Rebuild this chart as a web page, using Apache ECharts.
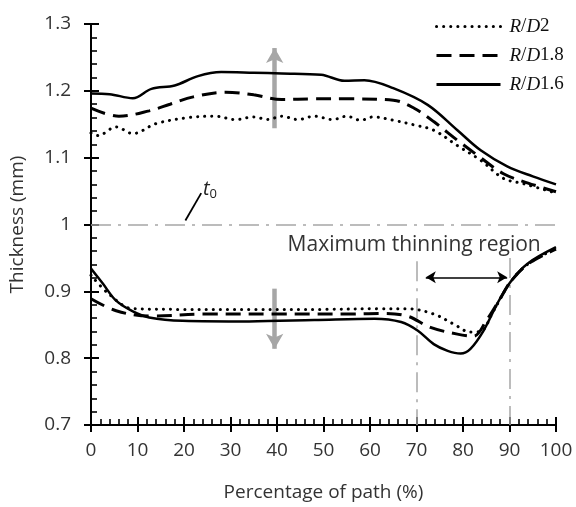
<!DOCTYPE html>
<html>
<head>
<meta charset="utf-8">
<script src="https://cdn.jsdelivr.net/npm/echarts@6/dist/echarts.min.js"></script>
<style>html,body{margin:0;padding:0;background:#fff}#c{width:576px;height:507px}</style>
</head>
<body>
<div id="c"></div>
<script>
// ---- data ----
const seriesNames = ['R/D2', 'R/D1.8', 'R/D1.6'];
const xTicks = [0, 10, 20, 30, 40, 50, 60, 70, 80, 90, 100];
const yTicks = [0.7, 0.8, 0.9, 1.0, 1.1, 1.2, 1.3];

// R/D1.6 (solid)
const solidUpX = [0, 4, 9, 13, 18, 23, 28, 35, 41, 49.5, 54.5, 58.8, 65, 72.4, 78.8, 83.8, 89.5, 95, 100];
const solidUpY = [1.196, 1.195, 1.189, 1.203, 1.208, 1.222, 1.228, 1.227, 1.226, 1.224, 1.215, 1.216, 1.204, 1.179, 1.141, 1.111, 1.087, 1.072, 1.060];
const solidLoX = [0, 2.5, 5.4, 9, 12.5, 19.7, 34, 48, 61, 66.7, 70.3, 73.7, 76.7, 79.5, 81.6, 84.4, 87.4, 90.2, 93.8, 100];
const solidLoY = [0.934, 0.912, 0.886, 0.870, 0.861, 0.856, 0.855, 0.857, 0.859, 0.854, 0.841, 0.821, 0.811, 0.807, 0.814, 0.841, 0.882, 0.914, 0.941, 0.966];

// R/D1.8 (dashed)
const dashUpX = [0, 6, 12.5, 17, 22, 29, 35, 41, 48, 55, 65, 69.5, 73.7, 78.8, 83.8, 88.7, 94, 100];
const dashUpY = [1.174, 1.162, 1.170, 1.180, 1.191, 1.198, 1.194, 1.187, 1.188, 1.188, 1.186, 1.174, 1.154, 1.126, 1.100, 1.076, 1.062, 1.049];
const dashLoX = [0, 5.4, 12.5, 25, 40, 55, 62, 68, 73, 78.8, 82.3, 85, 88, 90.2, 94, 100];
const dashLoY = [0.889, 0.871, 0.863, 0.866, 0.866, 0.866, 0.867, 0.863, 0.846, 0.836, 0.833, 0.856, 0.889, 0.914, 0.941, 0.963];

// R/D2 (dotted)
const dotUpX = [0, 1.5, 5.4, 9, 14, 21, 26.8, 31, 35, 38, 41, 44.5, 48, 52, 55, 58, 60.7, 65, 69.5, 73.7, 78.8, 83.8, 88.7, 93, 100];
const dotUpY = [1.137, 1.133, 1.146, 1.136, 1.151, 1.160, 1.162, 1.157, 1.161, 1.157, 1.162, 1.157, 1.162, 1.157, 1.162, 1.156, 1.161, 1.156, 1.149, 1.141, 1.118, 1.096, 1.069, 1.061, 1.047];
const dotLoX = [0, 4, 9, 20, 35, 50, 62, 68, 73.7, 78, 81.6, 83.8, 86.5, 90.2, 94, 100];
const dotLoY = [0.924, 0.895, 0.874, 0.873, 0.873, 0.873, 0.874, 0.874, 0.866, 0.851, 0.839, 0.840, 0.870, 0.914, 0.941, 0.964];

// annotations
const t0Value = 1.0;
const regionBounds = [70, 90];
const arrowX = 39.5;
const upArrow = [1.144, 1.264];
const downArrow = [0.904, 0.814];
const regionArrowX = [72, 89.5];
const regionArrowY = 0.921;
const regionLabel = 'Maximum thinning region';
const regionLabelPos = [69.5, 0.969];
const t0Leader = [[20.3, 1.006], [23.7, 1.047]];
const t0LabelPos = [25.6, 1.052];

// ---- build ----
const zip = (xs, ys) => xs.map((x, i) => [x, ys[i]]);
const SANS = '"Open Sans", "Noto Sans", sans-serif';
const GRAY = '#a6a6a6';
const dashDot = [20, 7, 3, 7];

const styles = {
  'R/D2': { type: [0.1, 7], width: 3, cap: 'round' },
  'R/D1.8': { type: [15, 8], width: 3, cap: 'butt' },
  'R/D1.6': { type: 'solid', width: 2.5, cap: 'butt' }
};

function lineSeries(name, data) {
  const s = styles[name];
  return {
    name, type: 'line', data, smooth: 0.35, showSymbol: false, symbol: 'none',
    silent: true, z: 5,
    lineStyle: { color: '#000', width: s.width, type: s.type, cap: s.cap },
    itemStyle: { color: '#000' }
  };
}

const chart = echarts.init(document.getElementById('c'), null, { renderer: 'canvas' });

const tickStyle = { color: '#000', width: 2 };
const minorStyle = { color: '#000', width: 1.6 };

const option = {
  animation: false,
  backgroundColor: '#fff',
  grid: { left: 88, right: 20, top: 24, bottom: 82, containLabel: false },
  legend: {
    data: seriesNames,
    orient: 'vertical',
    left: 430, top: 12,
    itemWidth: 64, itemHeight: 14, itemGap: 10,
    selectedMode: false,
    itemStyle: { opacity: 0 },
    lineStyle: { width: 3 },
    formatter: n => '{i|R}{n|/}{i|D}{n|' + n.split('D')[1] + '}',
    textStyle: {
      padding: [0, 0, 0, 4],
      rich: {
        i: { fontFamily: '"Liberation Serif", "DejaVu Serif", serif', fontStyle: 'italic', fontSize: 19, color: '#111' },
        n: { fontFamily: '"Liberation Serif", "DejaVu Serif", serif', fontSize: 19, color: '#111' }
      }
    }
  },
  xAxis: [{
    type: 'value', min: 0, max: 100, interval: 10, position: 'bottom',
    name: 'Percentage of path (%)', nameLocation: 'middle', nameGap: 58,
    nameTextStyle: { fontFamily: SANS, fontSize: 19, color: '#333' },
    axisLine: { show: true, onZero: false, lineStyle: { color: '#000', width: 2 } },
    axisTick: { show: true, inside: true, length: 8, lineStyle: tickStyle },
    minorTick: { show: true, splitNumber: 5, length: 6, lineStyle: minorStyle },
    axisLabel: { margin: 16, fontFamily: SANS, fontSize: 19, color: '#333' },
    splitLine: { show: false }
  }, {
    type: 'value', min: 0, max: 100, interval: 10, position: 'bottom',
    axisLine: { show: false, onZero: false },
    axisTick: { show: true, inside: false, length: 7, lineStyle: tickStyle },
    axisLabel: { show: false }, splitLine: { show: false }
  }],
  yAxis: [{
    type: 'value', min: 0.7, max: 1.3, interval: 0.1,
    name: 'Thickness (mm)', nameLocation: 'middle', nameGap: 64,
    nameTextStyle: { fontFamily: SANS, fontSize: 19, color: '#333' },
    axisLine: { show: true, onZero: false, lineStyle: { color: '#000', width: 2 } },
    axisTick: { show: true, inside: true, length: 8, lineStyle: tickStyle },
    minorTick: { show: true, splitNumber: 5, length: 6, lineStyle: minorStyle },
    axisLabel: {
      margin: 20, fontFamily: SANS, fontSize: 19, color: '#333',
      formatter: v => (Math.abs(v - 1) < 1e-9 ? '1' : v.toFixed(1))
    },
    splitLine: { show: false }
  }, {
    type: 'value', min: 0.7, max: 1.3, interval: 0.1, position: 'left',
    axisLine: { show: false, onZero: false },
    axisTick: { show: true, inside: false, length: 7, lineStyle: tickStyle },
    axisLabel: { show: false }, splitLine: { show: false }
  }],
  series: [
    lineSeries('R/D2', zip(dotUpX, dotUpY)),
    lineSeries('R/D1.8', zip(dashUpX, dashUpY)),
    lineSeries('R/D1.6', zip(solidUpX, solidUpY)),
    lineSeries('R/D2', zip(dotLoX, dotLoY)),
    lineSeries('R/D1.8', zip(dashLoX, dashLoY)),
    lineSeries('R/D1.6', zip(solidLoX, solidLoY)),
    {
      name: 'annot', type: 'line', data: [], silent: true, z: 3,
      markLine: {
        silent: true, symbol: ['none', 'none'], label: { show: false },
        emphasis: { disabled: true },
        data: [
          [{ coord: [0, t0Value], lineStyle: { color: GRAY, width: 1.5, type: dashDot } }, { coord: [100, t0Value] }],
          [{ coord: [regionBounds[0], 0.945], lineStyle: { color: GRAY, width: 1.5, type: dashDot } }, { coord: [regionBounds[0], 0.7] }],
          [{ coord: [regionBounds[1], 0.95], lineStyle: { color: GRAY, width: 1.5, type: dashDot } }, { coord: [regionBounds[1], 0.7] }],
          [{ coord: t0Leader[0], lineStyle: { color: '#000', width: 1.8, type: 'solid' } }, { coord: t0Leader[1] }]
        ]
      }
    },
    {
      name: 'arrows', type: 'line', data: [], silent: true, z: 4,
      markLine: {
        silent: true, label: { show: false }, emphasis: { disabled: true },
        symbol: ['none', 'arrow'], symbolSize: [13, 15],
        data: [
          [{ coord: [arrowX, upArrow[0]], lineStyle: { color: GRAY, width: 4.5, type: 'solid' } }, { coord: [arrowX, upArrow[1]] }],
          [{ coord: [arrowX, downArrow[0]], lineStyle: { color: GRAY, width: 4.5, type: 'solid' } }, { coord: [arrowX, downArrow[1]] }]
        ]
      }
    },
    {
      name: 'regionArrow', type: 'line', data: [], silent: true, z: 4,
      markLine: {
        silent: true, label: { show: false }, emphasis: { disabled: true },
        symbol: ['arrow', 'arrow'], symbolSize: [9, 10],
        data: [
          [{ coord: [regionArrowX[0], regionArrowY], lineStyle: { color: '#000', width: 1.5, type: 'solid' } }, { coord: [regionArrowX[1], regionArrowY] }]
        ]
      }
    },
    {
      name: 'labels', type: 'line', data: [], silent: true, z: 6,
      markPoint: {
        silent: true, symbol: 'circle', symbolSize: 0,
        data: [
          {
            coord: regionLabelPos,
            label: { show: true, position: 'inside', formatter: regionLabel, fontFamily: SANS, fontSize: 21, color: '#333' }
          },
          {
            coord: t0LabelPos,
            label: {
              show: true, position: 'inside', formatter: '{t|t}{s|0}',
              rich: {
                t: { fontFamily: SANS, fontStyle: 'italic', fontSize: 20, color: '#222' },
                s: { fontFamily: SANS, fontSize: 13, color: '#222', padding: [10, 0, 0, 0] }
              }
            }
          }
        ]
      }
    }
  ]
};
chart.setOption(option);
</script>
</body>
</html>
